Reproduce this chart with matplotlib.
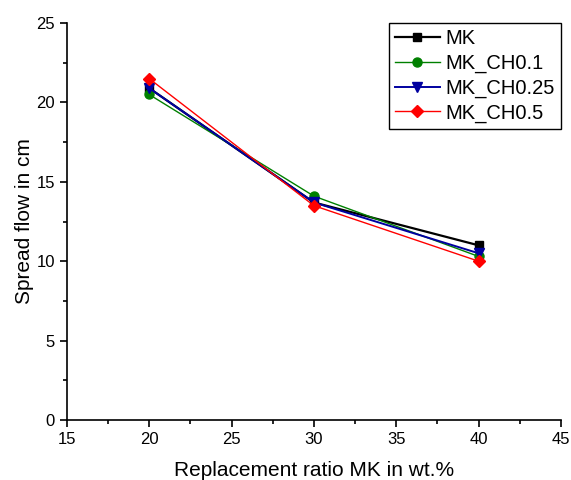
import matplotlib
matplotlib.use("Agg")
import matplotlib.pyplot as plt
from matplotlib.ticker import MultipleLocator

plt.rcParams['font.family'] = ['Liberation Sans', 'DejaVu Sans']

x = [20, 30, 40]
mk = [20.9, 13.7, 11.0]
mk_ch01 = [20.5, 14.1, 10.3]
mk_ch025 = [20.9, 13.7, 10.5]
mk_ch05 = [21.5, 13.5, 10.0]

labels = ['MK', 'MK_CH0.1', 'MK_CH0.25', 'MK_CH0.5']
series = [mk, mk_ch01, mk_ch025, mk_ch05]
colors = ['#000000', '#008000', '#0000a0', '#ff0000']
markers = ['s', 'o', 'v', 'D']
msizes = [6, 6.5, 7, 6]
lws = [1.6, 1.0, 1.4, 1.0]

fig = plt.figure(figsize=(5.71, 4.8), dpi=100)
ax = fig.add_axes([0.117, 0.125, 0.8655, 0.827])

for y, lab, c, m, ms, lw in zip(series, labels, colors, markers, msizes, lws):
    ax.plot(x, y, color=c, marker=m, markersize=ms, linewidth=lw, label=lab)

ax.set_xlim(15, 45)
ax.set_ylim(0, 25)
ax.xaxis.set_major_locator(MultipleLocator(5))
ax.xaxis.set_minor_locator(MultipleLocator(2.5))
ax.yaxis.set_major_locator(MultipleLocator(5))
ax.yaxis.set_minor_locator(MultipleLocator(2.5))
ax.spines['top'].set_visible(False)
ax.spines['right'].set_visible(False)
for s in ['left', 'bottom']:
    ax.spines[s].set_linewidth(1.2)
ax.tick_params(which='major', direction='out', length=5, width=1.2, labelsize=12)
ax.tick_params(which='minor', direction='out', length=3, width=1.2)

ax.set_xlabel('Replacement ratio MK in wt.%', fontsize=15, labelpad=10)
ax.set_ylabel('Spread flow in cm', fontsize=15, labelpad=2)

leg = ax.legend(loc='upper right', bbox_to_anchor=(1.0, 1.0), fontsize=14.5,
                frameon=True, fancybox=False, edgecolor='black', framealpha=1,
                borderpad=0.3, labelspacing=0.28, handlelength=2.2,
                handletextpad=0.3, borderaxespad=0.0)
leg.get_frame().set_linewidth(1.0)

fig.savefig('out.png', dpi=100)
